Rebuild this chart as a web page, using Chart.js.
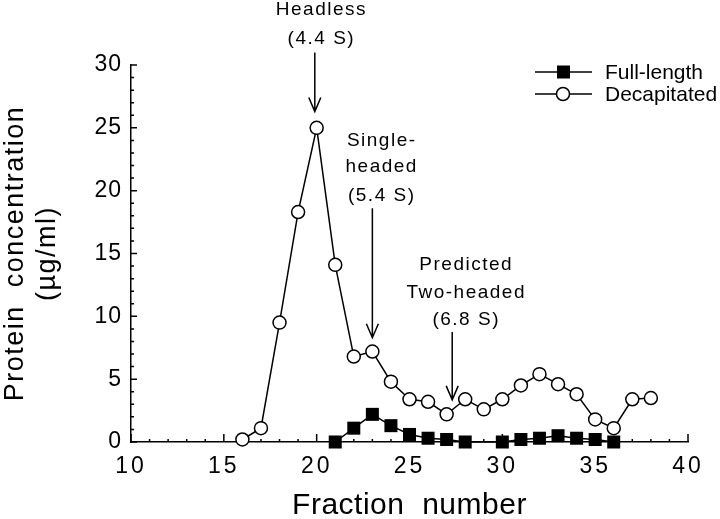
<!DOCTYPE html>
<html lang="en">
<head>
<meta charset="UTF-8">
<title>Protein concentration vs fraction number</title>
<script src="https://cdn.jsdelivr.net/npm/chart.js@4"></script>
<style>
    html, body { margin: 0; padding: 0; background: #fff; }
    #wrap { width: 720px; height: 519px; }
</style>
</head>
<body>
<div id="wrap"><canvas id="chart" width="720" height="519"></canvas></div>
<script>
    // data
    const decapFractions = [16, 17, 18, 19, 20, 21, 22, 23, 24, 25, 26, 27, 28, 29, 30, 31, 32, 33, 34, 35, 36, 37, 38];
    const decapitated = [0.2, 1.1, 9.5, 18.3, 25.0, 14.1, 6.8, 7.2, 4.8, 3.4, 3.2, 2.2, 3.4, 2.6, 3.4, 4.5, 5.4, 4.6, 3.8, 1.8, 1.1, 3.4, 3.5];
    const fullFractions = [21, 22, 23, 24, 25, 26, 27, 28, 30, 31, 32, 33, 34, 35, 36];
    const fullLength = [0, 1.1, 2.2, 1.3, 0.6, 0.3, 0.2, 0, 0, 0.2, 0.3, 0.5, 0.3, 0.2, 0];
    const seriesNames = ['Full-length', 'Decapitated'];
    const xTicks = [10, 15, 20, 25, 30, 35, 40];
    const yTicks = [0, 5, 10, 15, 20, 25, 30];

    // arrows with labels, in data units
    const notes = [
        { text: ['Headless', '(4.4 S)'], tx: 20.2, ty: [34.4, 32.1], ax: 19.9, from: 31.0, to: 26.3 },
        { text: ['Single-', 'headed', '(5.4 S)'], tx: 23.45, ty: [24.0, 21.9, 19.6], ax: 23.0, from: 18.6, to: 8.3 },
        { text: ['Predicted', 'Two-headed', '(6.8 S)'], tx: 28.0, ty: [14.1, 11.9, 9.7], ax: 27.3, from: 8.75, to: 3.35 }
    ];

    const FONT = "'Liberation Sans', Arial, Helvetica, sans-serif";

    const toPoints = (xs, ys) => xs.map((x, i) => ({ x: x, y: ys[i] }));

    function spaced(scale, method, px) {
        const orig = scale[method];
        if (orig._spaced) return;
        const fn = function (...args) {
            this.ctx.save();
            this.ctx.letterSpacing = px + 'px';
            orig.apply(this, args);
            this.ctx.restore();
        };
        fn._spaced = true;
        scale[method] = fn;
    }

    const extras = {
        id: 'extras',
        beforeDraw(chart) {
            spaced(chart.scales.x, 'drawLabels', 3);
            spaced(chart.scales.x, 'drawTitle', 0.5);
            spaced(chart.scales.y, 'drawLabels', 1);
            spaced(chart.scales.y, 'drawTitle', 1.5);
        },
        beforeDatasetsDraw(chart) {
            const ctx = chart.ctx;
            const xs = chart.scales.x, ys = chart.scales.y;
            const area = chart.chartArea;
            ctx.save();
            ctx.strokeStyle = '#000';
            ctx.lineWidth = 1.5;
            ctx.beginPath();
            // inward ticks on x
            for (let v = xs.min; v <= xs.max; v++) {
                const px = xs.getPixelForValue(v);
                const len = v % 5 === 0 ? 8 : 3;
                ctx.moveTo(px, area.bottom);
                ctx.lineTo(px, area.bottom - len);
            }
            // inward ticks on y
            for (let v = ys.min; v <= ys.max; v++) {
                const py = ys.getPixelForValue(v);
                const len = v % 5 === 0 ? 6 : 3;
                ctx.moveTo(area.left, py);
                ctx.lineTo(area.left + len, py);
            }
            ctx.stroke();
            ctx.restore();
        },
        afterDraw(chart) {
            const ctx = chart.ctx;
            const xs = chart.scales.x, ys = chart.scales.y;
            ctx.save();
            ctx.strokeStyle = '#000';
            ctx.fillStyle = '#000';
            ctx.lineWidth = 1.5;

            // annotations
            ctx.font = '19px ' + FONT;
            ctx.letterSpacing = '1.5px';
            ctx.textAlign = 'center';
            ctx.textBaseline = 'middle';
            notes.forEach(n => {
                n.text.forEach((t, i) => {
                    ctx.fillText(t, xs.getPixelForValue(n.tx) + 1, ys.getPixelForValue(n.ty[i]));
                });
                const ax = xs.getPixelForValue(n.ax);
                const y0 = ys.getPixelForValue(n.from);
                const y1 = ys.getPixelForValue(n.to);
                ctx.beginPath();
                ctx.moveTo(ax, y0);
                ctx.lineTo(ax, y1);
                ctx.moveTo(ax - 6, y1 - 14);
                ctx.lineTo(ax, y1);
                ctx.lineTo(ax + 6, y1 - 14);
                ctx.stroke();
            });

            // legend
            ctx.letterSpacing = '0px';
            ctx.font = '21px ' + FONT;
            ctx.textAlign = 'left';
            const rows = [72, 94];
            chart.data.datasets.forEach((ds, i) => {
                const y = rows[i];
                ctx.beginPath();
                ctx.moveTo(535, y);
                ctx.lineTo(592, y);
                ctx.stroke();
                if (ds.pointStyle === 'rect') {
                    ctx.fillRect(557, y - 6.5, 13, 13);
                } else {
                    ctx.beginPath();
                    ctx.arc(563, y, 6.5, 0, Math.PI * 2);
                    ctx.fillStyle = '#fff';
                    ctx.fill();
                    ctx.stroke();
                    ctx.fillStyle = '#000';
                }
                ctx.fillText(ds.label, 605, y + 1);
            });
            ctx.restore();
        }
    };

    const ctx = document.getElementById('chart').getContext('2d');
    new Chart(ctx, {
        type: 'scatter',
        data: {
            datasets: [
                {
                    label: seriesNames[0],
                    data: toPoints(fullFractions, fullLength),
                    showLine: true,
                    clip: false,
                    borderColor: '#000',
                    borderWidth: 1.5,
                    backgroundColor: '#000',
                    pointStyle: 'rect',
                    pointRadius: 9.2,
                    pointBorderWidth: 0,
                    order: 0
                },
                {
                    label: seriesNames[1],
                    data: toPoints(decapFractions, decapitated),
                    showLine: true,
                    clip: false,
                    borderColor: '#000',
                    borderWidth: 1.5,
                    pointBackgroundColor: '#fff',
                    pointBorderColor: '#000',
                    pointBorderWidth: 1.5,
                    pointStyle: 'circle',
                    pointRadius: 6.5,
                    order: 1
                }
            ]
        },
        plugins: [extras],
        options: {
            responsive: false,
            animation: false,
            layout: { padding: { top: 65, right: 32, bottom: 0, left: 0 } },
            plugins: {
                legend: { display: false },
                tooltip: { enabled: false }
            },
            scales: {
                x: {
                    type: 'linear',
                    min: 10,
                    max: 40,
                    afterFit: s => { s.height = 77; },
                    afterBuildTicks: s => { s.ticks = xTicks.map(v => ({ value: v })); },
                    grid: { display: false, drawTicks: false },
                    border: { display: true, color: '#000', width: 1.5 },
                    ticks: { color: '#000', padding: 11, font: { family: FONT, size: 23 }, maxRotation: 0 },
                    title: {
                        display: true,
                        text: 'Fraction  number',
                        color: '#000',
                        font: { family: FONT, size: 30, lineHeight: '26px' },
                        padding: { top: 0, bottom: 0 }
                    }
                },
                y: {
                    min: 0,
                    max: 30,
                    afterFit: s => { s.width = 131; },
                    afterBuildTicks: s => { s.ticks = yTicks.map(v => ({ value: v })); },
                    grid: { display: false, drawTicks: false },
                    border: { display: true, color: '#000', width: 1.5 },
                    ticks: { color: '#000', padding: 9, font: { family: FONT, size: 23 } },
                    title: {
                        display: true,
                        text: ['Protein  concentration', '(\u00b5g/ml)'],
                        color: '#000',
                        font: { family: FONT, size: 27, lineHeight: '32px' },
                        padding: { top: 0, bottom: 0 }
                    }
                }
            }
        }
    });
</script>
</body>
</html>
